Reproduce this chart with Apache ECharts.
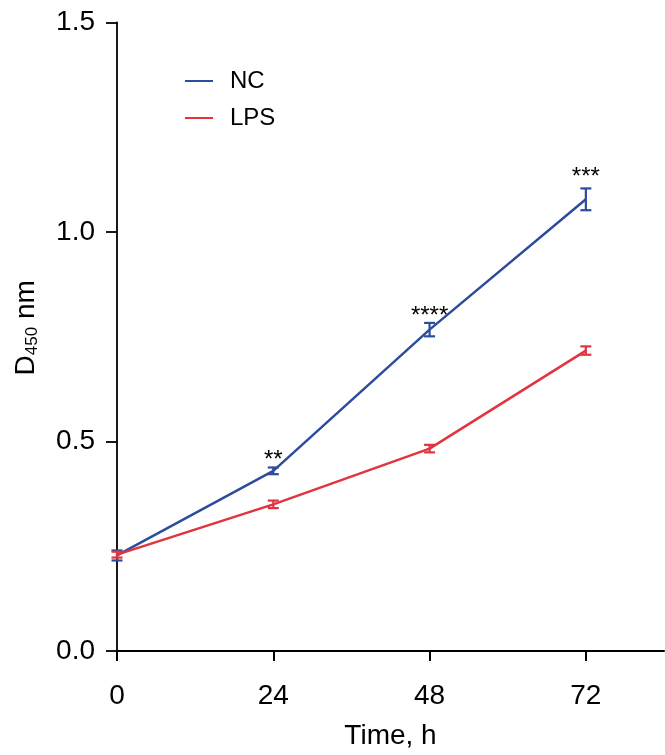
<!DOCTYPE html>
<html>
<head>
<meta charset="utf-8">
<script src="https://cdn.jsdelivr.net/npm/echarts@6/dist/echarts.min.js"></script>
<style>
html,body{margin:0;padding:0;background:#fff;}
#chart{width:665px;height:755px;}
</style>
</head>
<body>
<div id="chart"></div>
<script>
var times = [0, 24, 48, 72];
var xTicks = [0, 24, 48, 72];
var ncValues = [0.228, 0.430, 0.767, 1.078];
var ncErrors = [0.012, 0.008, 0.016, 0.026];
var lpsValues = [0.230, 0.350, 0.483, 0.717];
var lpsErrors = [0.007, 0.009, 0.009, 0.010];
var significance = ['', '**', '****', '***'];

var BLUE = '#2e4c9c';
var RED = '#e0353f';
var FONT = 'Liberation Sans, Arial, sans-serif';

function pairs(vals) { return times.map(function (t, i) { return [t, vals[i]]; }); }
function errData(vals, errs) { return times.map(function (t, i) { return [t, vals[i] - errs[i], vals[i] + errs[i]]; }); }

function errRender(color) {
  return function (params, api) {
    var x = api.value(0);
    var lo = api.coord([x, api.value(1)]);
    var hi = api.coord([x, api.value(2)]);
    var hw = 5.5;
    var st = { stroke: color, lineWidth: 2.2 };
    return {
      type: 'group',
      children: [
        { type: 'line', shape: { x1: lo[0], y1: lo[1], x2: hi[0], y2: hi[1] }, style: st },
        { type: 'line', shape: { x1: lo[0] - hw, y1: lo[1], x2: lo[0] + hw, y2: lo[1] }, style: st },
        { type: 'line', shape: { x1: hi[0] - hw, y1: hi[1], x2: hi[0] + hw, y2: hi[1] }, style: st }
      ]
    };
  };
}

var sigData = times.map(function (t, i) { return [t, ncValues[i] + ncErrors[i], i]; });

var chart = echarts.init(document.getElementById('chart'));
chart.setOption({
  backgroundColor: '#fff',
  animation: false,
  grid: { left: 117, right: 1, top: 22.5, bottom: 104, containLabel: false },
  legend: {
    left: 180, top: 64, orient: 'vertical', itemGap: 13,
    itemWidth: 28, itemHeight: 12, icon: 'path://M0,5 L28,5 L28,7 L0,7 Z',
    textStyle: { fontFamily: FONT, fontSize: 24, color: '#000', padding: [0, 0, 0, 12] },
    data: [
      { name: 'NC', itemStyle: { color: BLUE } },
      { name: 'LPS', itemStyle: { color: RED } }
    ]
  },
  xAxis: {
    type: 'value', min: 0, max: 84, interval: 24,
    name: 'Time, h', nameLocation: 'middle', nameGap: 71,
    nameTextStyle: { fontFamily: FONT, fontSize: 28, color: '#000' },
    axisLine: { show: true, lineStyle: { color: '#000', width: 2 } },
    axisTick: { show: true, length: 10, lineStyle: { color: '#000', width: 2 }, customValues: xTicks },
    axisLabel: { fontFamily: FONT, fontSize: 28, color: '#000', margin: 31, customValues: xTicks },
    splitLine: { show: false }
  },
  yAxis: {
    type: 'value', min: 0, max: 1.5, interval: 0.5,
    name: '{a|D}{s|450}{a| nm}', nameLocation: 'middle', nameGap: 76, nameRotate: 90,
    nameTextStyle: {
      padding: [0, 0, 0, 18],
      rich: {
        a: { fontFamily: FONT, fontSize: 28, color: '#000' },
        s: { fontFamily: FONT, fontSize: 17, color: '#000', verticalAlign: 'bottom', padding: [12, 0, 0, 0] }
      }
    },
    axisLine: { show: true, lineStyle: { color: '#000', width: 1.8 } },
    axisTick: { show: true, length: 11, lineStyle: { color: '#000', width: 1.8 } },
    axisLabel: { fontFamily: FONT, fontSize: 28, color: '#000', margin: 22, formatter: function (v) { return v.toFixed(1); } },
    splitLine: { show: false }
  },
  series: [
    { name: 'NC', type: 'line', data: pairs(ncValues), symbol: 'none', lineStyle: { color: BLUE, width: 2.5 }, itemStyle: { color: BLUE }, z: 3 },
    { name: 'LPS', type: 'line', data: pairs(lpsValues), symbol: 'none', lineStyle: { color: RED, width: 2.5 }, itemStyle: { color: RED }, z: 4 },
    { name: 'NC err', type: 'custom', data: errData(ncValues, ncErrors), renderItem: errRender(BLUE), z: 5, encode: { x: 0, y: [1, 2] } },
    { name: 'LPS err', type: 'custom', data: errData(lpsValues, lpsErrors), renderItem: errRender(RED), z: 6, encode: { x: 0, y: [1, 2] } },
    {
      name: 'sig', type: 'custom', data: sigData, z: 7, encode: { x: 0, y: 1 },
      renderItem: function (params, api) {
        var p = api.coord([api.value(0), api.value(1)]);
        var extra = api.value(2) === 3 ? 4 : 0;
        return {
          type: 'text', x: p[0], y: p[1] - 7 - extra,
          style: { text: significance[api.value(2)], fontFamily: FONT, fontSize: 24, fill: '#000', align: 'center', verticalAlign: 'middle' }
        };
      }
    }
  ]
});
</script>
</body>
</html>
